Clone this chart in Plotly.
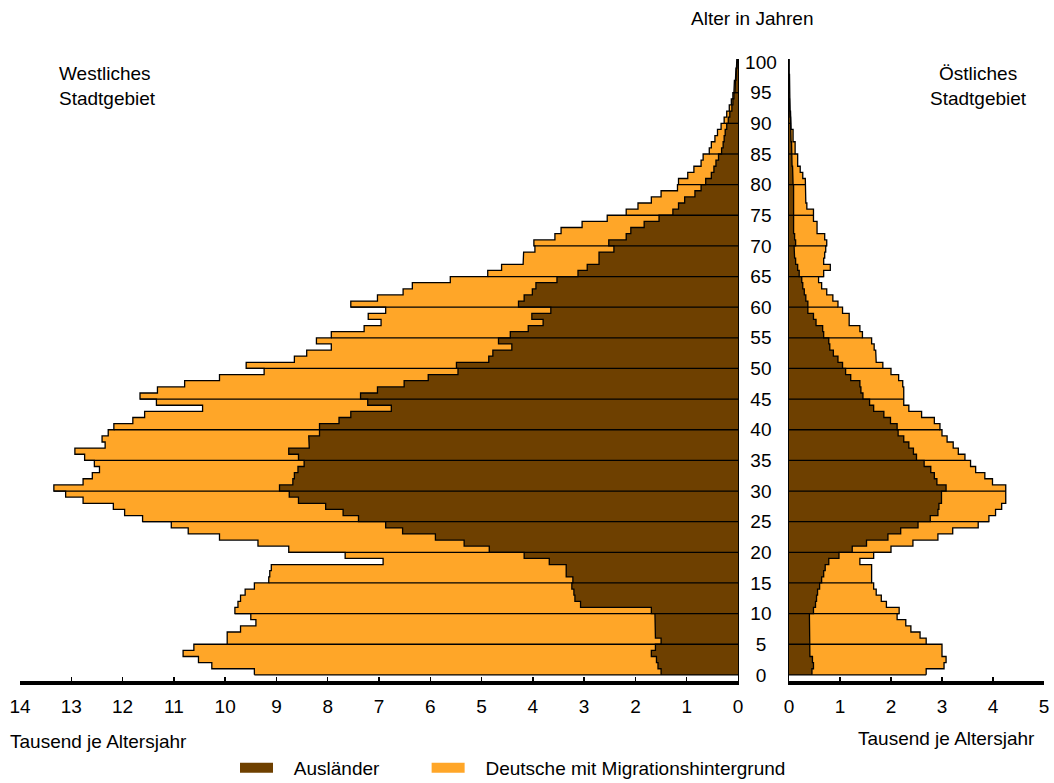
import plotly.graph_objects as go

ages = list(range(0, 101))

# Westliches Stadtgebiet (Tausend je Altersjahr)
west_auslaender = [
    1.50, 1.56, 1.59, 1.69, 1.61, 1.50, 1.61, 1.61, 1.62, 1.62,
    1.69, 3.07, 3.18, 3.20, 3.24, 3.22, 3.35, 3.35, 3.68, 4.17,
    4.85, 5.34, 5.90, 6.54, 6.87, 7.40, 7.70, 8.04, 8.57, 8.75,
    8.94, 8.68, 8.65, 8.58, 8.46, 8.57, 8.76, 8.36, 8.37, 8.16,
    8.16, 7.78, 7.55, 6.76, 7.22, 7.36, 7.03, 6.51, 6.04, 5.46,
    5.49, 4.86, 4.78, 4.41, 4.67, 4.44, 4.09, 3.80, 4.02, 3.65,
    4.28, 4.17, 4.01, 3.94, 3.53, 3.12, 2.94, 2.71, 2.71, 2.42,
    2.52, 2.18, 2.09, 1.83, 1.54, 1.27, 1.16, 1.04, 0.84, 0.72,
    0.63, 0.52, 0.47, 0.43, 0.38, 0.32, 0.29, 0.27, 0.25, 0.22,
    0.19, 0.16, 0.12, 0.10, 0.08, 0.06, 0.05, 0.04, 0.03, 0.02,
    0.01]
west_deutsche_mh = [
    7.93, 8.70, 8.93, 9.13, 9.00, 8.46, 8.35, 8.09, 7.78, 7.88,
    8.12, 6.68, 6.52, 6.41, 6.19, 5.93, 5.78, 5.75, 3.24, 3.49,
    3.91, 4.02, 4.21, 4.18, 4.18, 4.21, 4.26, 4.14, 4.20, 4.36,
    4.40, 4.09, 3.94, 3.87, 4.09, 4.17, 4.17, 3.98, 4.03, 4.12,
    4.01, 4.02, 4.02, 3.68, 4.12, 4.30, 4.29, 4.28, 4.07, 3.78,
    4.10, 3.79, 3.63, 3.52, 3.55, 3.49, 3.20, 3.16, 3.19, 3.22,
    3.27, 2.86, 2.52, 2.41, 2.08, 1.76, 1.67, 1.48, 1.47, 1.54,
    1.46, 1.39, 1.36, 1.21, 1.01, 0.91, 0.79, 0.65, 0.66, 0.46,
    0.53, 0.46, 0.39, 0.29, 0.30, 0.24, 0.23, 0.18, 0.15, 0.11,
    0.08, 0.06, 0.05, 0.03, 0.02, 0.02, 0.02, 0.01, 0.01, 0.01,
    0.01]

# Östliches Stadtgebiet (Tausend je Altersjahr)
ost_auslaender = [
    0.45, 0.48, 0.46, 0.41, 0.41, 0.40, 0.40, 0.40, 0.40, 0.40,
    0.48, 0.52, 0.54, 0.56, 0.60, 0.64, 0.68, 0.71, 0.78, 0.98,
    1.24, 1.52, 1.94, 2.19, 2.53, 2.77, 2.92, 2.94, 2.99, 2.99,
    3.08, 2.90, 2.85, 2.78, 2.65, 2.50, 2.44, 2.35, 2.25, 2.14,
    2.12, 1.99, 1.86, 1.66, 1.58, 1.45, 1.41, 1.39, 1.21, 1.11,
    1.05, 0.96, 0.87, 0.80, 0.78, 0.68, 0.66, 0.53, 0.48, 0.37,
    0.37, 0.33, 0.30, 0.27, 0.25, 0.20, 0.17, 0.13, 0.11, 0.10,
    0.13, 0.11, 0.09, 0.09, 0.09, 0.10, 0.09, 0.09, 0.09, 0.09,
    0.08, 0.07, 0.07, 0.06, 0.06, 0.05, 0.05, 0.04, 0.04, 0.03,
    0.03, 0.02, 0.01, 0.01, 0.00, 0.00, 0.00, 0.00, 0.00, 0.00,
    0.00]
ost_deutsche_mh = [
    2.24, 2.56, 2.62, 2.59, 2.59, 2.29, 2.17, 1.99, 1.89, 1.72,
    1.68, 1.39, 1.27, 1.15, 1.06, 0.98, 0.94, 0.91, 0.61, 0.68,
    0.76, 0.91, 0.98, 1.02, 1.18, 1.15, 1.13, 1.23, 1.26, 1.26,
    1.17, 1.09, 0.99, 0.88, 0.91, 0.95, 0.88, 0.87, 0.85, 0.86,
    0.84, 0.86, 0.74, 0.69, 0.67, 0.80, 0.84, 0.84, 0.94, 0.89,
    0.79, 0.75, 0.83, 0.87, 0.84, 0.76, 0.73, 0.65, 0.70, 0.68,
    0.59, 0.53, 0.44, 0.37, 0.33, 0.48, 0.64, 0.55, 0.59, 0.62,
    0.61, 0.59, 0.46, 0.46, 0.39, 0.38, 0.26, 0.24, 0.23, 0.23,
    0.24, 0.20, 0.15, 0.11, 0.11, 0.07, 0.07, 0.04, 0.04, 0.01,
    0.01, 0.01, 0.01, 0.00, 0.01, 0.01, 0.02, 0.01, 0.00, 0.00,
    0.00]

series_names = ["Ausländer", "Deutsche mit Migrationshintergrund"]
age_ticks = list(range(0, 101, 5))
west_ticks = list(range(0, 15))
ost_ticks = list(range(0, 6))

DARK = "#6E4000"
ORANGE = "#FFA628"
FONT = "Arial, Liberation Sans, sans-serif"
NB = "\u00a0"

fig = go.Figure()

ymid = [a + 0.5 for a in ages]


def add_side(aus, deu, xa, ya):
    fig.add_trace(go.Bar(
        y=ymid, x=aus, orientation="h", width=1, name=series_names[0],
        marker=dict(color=DARK, line=dict(width=0)),
        xaxis=xa, yaxis=ya, showlegend=False, hoverinfo="skip"))
    fig.add_trace(go.Bar(
        y=ymid, x=deu, orientation="h", width=1, name=series_names[1],
        marker=dict(color=ORANGE, line=dict(width=0)),
        xaxis=xa, yaxis=ya, showlegend=False, hoverinfo="skip"))
    total = [a + d for a, d in zip(aus, deu)]
    for series in (aus, total):
        xs, ys = [], []
        for a, v in zip(ages, series):
            xs += [v, v]
            ys += [a, a + 1]
        xs.append(0)
        ys.append(ages[-1] + 1)
        fig.add_trace(go.Scatter(
            x=xs, y=ys, mode="lines", line=dict(color="black", width=1.3),
            xaxis=xa, yaxis=ya, showlegend=False, hoverinfo="skip"))
    # 5-year separator lines
    xs, ys = [], []
    for a in age_ticks:
        xs += [0, total[a], None]
        ys += [a, a, None]
    fig.add_trace(go.Scatter(
        x=xs, y=ys, mode="lines", line=dict(color="black", width=1.3),
        xaxis=xa, yaxis=ya, showlegend=False, hoverinfo="skip"))


add_side(west_auslaender, west_deutsche_mh, "x", "y")
add_side(ost_auslaender, ost_deutsche_mh, "x2", "y2")

# legend keys (wide colour boxes like the original)
legend_labels = [NB * 3 + series_names[0] + NB * 8,
                 NB * 3 + series_names[1]]
for name, col in zip(legend_labels, [DARK, ORANGE]):
    fig.add_trace(go.Scatter(
        x=[None], y=[None], mode="lines", name=name,
        line=dict(color=col, width=15), showlegend=True,
        hoverinfo="skip"))

W, H = 1054, 783
ml, mr, mt, mb = 20, 10, 59, 102
pw = W - ml - mr
ph = H - mt - mb


def px(xp):
    return (xp - ml) / pw


def py(yp):
    return (H - mb - yp) / ph


age_labels = [NB * (3 - len(str(t))) + str(t) for t in age_ticks]

fig.update_layout(
    width=W, height=H, autosize=False,
    margin=dict(l=ml, r=mr, t=mt, b=mb, autoexpand=False),
    paper_bgcolor="white", plot_bgcolor="white",
    barmode="stack", bargap=0,
    font=dict(family=FONT, size=19, color="black"),
    xaxis=dict(domain=[0, px(738)], range=[14, 0], anchor="y",
               tickvals=west_ticks, ticktext=[str(t) for t in west_ticks],
               showline=True, linecolor="black", linewidth=4,
               ticks="inside", ticklen=4, tickwidth=1.5, tickcolor="black",
               ticklabelstandoff=5, automargin=False,
               showgrid=False, zeroline=False),
    xaxis2=dict(domain=[px(789), 1.0], range=[0, 5], anchor="y2",
                tickvals=ost_ticks, ticktext=[str(t) for t in ost_ticks],
                showline=True, linecolor="black", linewidth=4,
                ticks="inside", ticklen=4, tickwidth=1.5, tickcolor="black",
                ticklabelstandoff=5, automargin=False,
                showgrid=False, zeroline=False),
    yaxis=dict(range=[-1, 100.5], anchor="x", side="right",
               tickvals=age_ticks, ticktext=age_labels,
               showline=True, linecolor="black", linewidth=1.3,
               ticks="", ticklabelstandoff=2, automargin=False,
               showgrid=False, zeroline=False),
    yaxis2=dict(range=[-1, 100.5], anchor="x2", matches="y", side="left",
                showticklabels=False, showline=True, linecolor="black",
                linewidth=1.3, ticks="", automargin=False,
                showgrid=False, zeroline=False),
    legend=dict(orientation="h", xref="container", yref="container",
                x=513 / W, xanchor="center",
                y=1 - 768 / H, yanchor="middle", font=dict(size=19),
                bgcolor="rgba(0,0,0,0)", traceorder="normal",
                itemwidth=33, itemclick=False, itemdoubleclick=False),
    showlegend=True,
)

annos = [
    dict(text="Alter in Jahren", x=px(752), y=py(18), xanchor="center"),
    dict(text="Westliches<br>Stadtgebiet", x=px(57), y=py(86),
         xanchor="left", align="left"),
    dict(text="Östliches<br>Stadtgebiet", x=px(978), y=py(86),
         xanchor="center", align="center"),
    dict(text="Tausend je Altersjahr", x=px(8), y=py(741), xanchor="left"),
    dict(text="Tausend je Altersjahr", x=px(1037), y=py(738),
         xanchor="right"),
]
for a in annos:
    fig.add_annotation(xref="paper", yref="paper", yanchor="middle",
                       showarrow=False, font=dict(size=19), **a)

fig.write_html("out.html",
               config={"displayModeBar": False, "staticPlot": True},
               post_script="document.body.style.margin='0px';"
                           "document.body.style.overflow='hidden';")
